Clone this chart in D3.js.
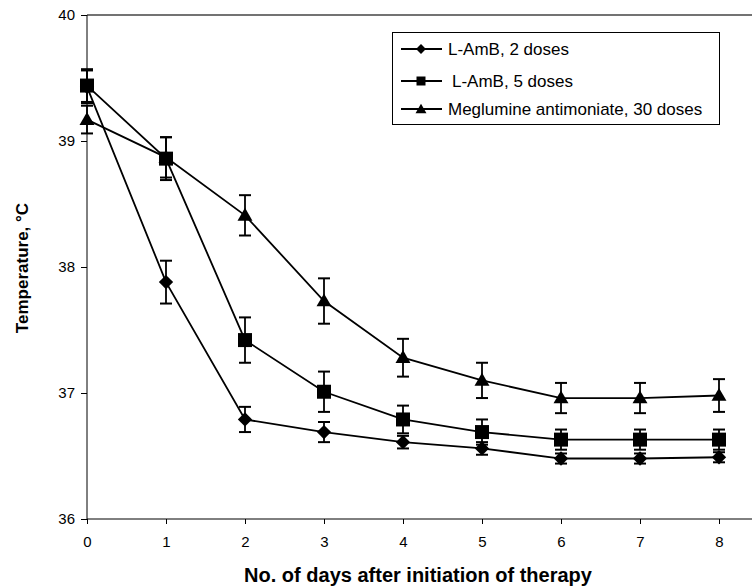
<!DOCTYPE html>
<html>
<head>
<meta charset="utf-8">
<script src="https://cdn.jsdelivr.net/npm/d3@7"></script>
<style>
  body { margin: 0; background: #fff; }
  svg { display: block; font-family: "Liberation Sans", Arial, sans-serif; }
  .axis path, .axis line { stroke: #000; }
  .axis text { font-size: 15px; fill: #000; }
</style>
</head>
<body>
<script>
  // days after start of therapy
  var days = [0, 1, 2, 3, 4, 5, 6, 7, 8];

  var amb2    = [39.43, 37.88, 36.79, 36.69, 36.61, 36.56, 36.48, 36.48, 36.49];
  var amb2Err = [0.13, 0.17, 0.10, 0.08, 0.05, 0.05, 0.04, 0.04, 0.04];

  var amb5    = [39.44, 38.86, 37.42, 37.01, 36.79, 36.69, 36.63, 36.63, 36.63];
  var amb5Err = [0.13, 0.17, 0.18, 0.16, 0.11, 0.10, 0.08, 0.08, 0.08];

  var mega    = [39.17, 38.87, 38.41, 37.73, 37.28, 37.10, 36.96, 36.96, 36.98];
  var megaErr = [0.11, 0.16, 0.16, 0.18, 0.15, 0.14, 0.12, 0.12, 0.13];

  var seriesNames = ["L-AmB, 2 doses", "L-AmB, 5 doses", "Meglumine antimoniate, 30 doses"];
  var yTicks = [36, 37, 38, 39, 40];

  var series = [
    {name: seriesNames[0], values: amb2, err: amb2Err, shape: "diamond"},
    {name: seriesNames[1], values: amb5, err: amb5Err, shape: "square"},
    {name: seriesNames[2], values: mega, err: megaErr, shape: "triangle"}
  ];

  var width = 752, height = 588;

  var x = d3.scaleLinear().domain([0, 8.5]).range([87, 87 + 8.5 * 79]);
  var y = d3.scaleLinear().domain([36, 40]).range([519, 15]);

  var svg = d3.select("body").append("svg")
      .attr("width", width)
      .attr("height", height);

  // top frame line
  svg.append("line")
      .attr("x1", x(0)).attr("x2", width)
      .attr("y1", y(40)).attr("y2", y(40))
      .attr("stroke", "#444").attr("stroke-width", 1.3);

  // axis-x
  svg.append("g")
      .attr("class", "axis")
      .attr("transform", "translate(0," + y(36) + ")")
      .call(d3.axisBottom(x).tickValues(days).tickSize(5).tickPadding(12).tickFormat(d3.format("d")))
      .call(function(g) { g.select(".domain").attr("d", "M" + x(0) + ",0H" + width); });

  // axis-y
  svg.append("g")
      .attr("class", "axis")
      .attr("transform", "translate(" + x(0) + ",0)")
      .call(d3.axisLeft(y).tickValues(yTicks).tickSize(6).tickPadding(6).tickFormat(d3.format("d")))
      .call(function(g) { g.select(".domain").attr("d", "M0," + y(40) + "V" + y(36)); });

  function marker(shape, s) {
    if (shape === "square") return d3.symbol().type(d3.symbolSquare).size(s * s)();
    if (shape === "triangle") return d3.symbol().type(d3.symbolTriangle).size(s * s * 0.43)();
    // diamond: square turned 45 degrees
    var h = s * 0.55;
    return "M0," + (-h) + "L" + h + ",0L0," + h + "L" + (-h) + ",0Z";
  }

  var line = d3.line()
      .x(function(d, i) { return x(days[i]); })
      .y(function(d) { return y(d); });

  var plot = svg.append("g");

  series.forEach(function(s) {
    var g = plot.append("g");

    g.append("path")
      .attr("d", line(s.values))
      .attr("fill", "none")
      .attr("stroke", "#000")
      .attr("stroke-width", 1.8);

    // error bars
    var eb = g.selectAll(".eb").data(s.values).enter().append("g");
    eb.append("line")
      .attr("x1", function(d, i) { return x(days[i]); })
      .attr("x2", function(d, i) { return x(days[i]); })
      .attr("y1", function(d, i) { return y(d + s.err[i]); })
      .attr("y2", function(d, i) { return y(d - s.err[i]); })
      .attr("stroke", "#000").attr("stroke-width", 1.8);
    [1, -1].forEach(function(sign) {
      eb.append("line")
        .attr("x1", function(d, i) { return x(days[i]) - 6; })
        .attr("x2", function(d, i) { return x(days[i]) + 6; })
        .attr("y1", function(d, i) { return y(d + sign * s.err[i]); })
        .attr("y2", function(d, i) { return y(d + sign * s.err[i]); })
        .attr("stroke", "#000").attr("stroke-width", 2);
    });

    g.selectAll(".mk").data(s.values).enter().append("path")
      .attr("d", marker(s.shape, s.shape === "square" ? 14 : (s.shape === "triangle" ? 15 : 13)))
      .attr("transform", function(d, i) {
        var dy = s.shape === "triangle" ? 1 : 0;
        return "translate(" + x(days[i]) + "," + (y(d) + dy) + ")";
      })
      .attr("fill", "#000");
  });

  // legend
  var legend = svg.append("g");
  legend.append("rect")
      .attr("x", 392.5).attr("y", 32.5)
      .attr("width", 327).attr("height", 92)
      .attr("fill", "#fff").attr("stroke", "#000").attr("stroke-width", 1);

  var rowY = [49, 81, 109];
  var rowX = [448, 452, 448];
  series.forEach(function(s, i) {
    var row = legend.append("g").attr("transform", "translate(0," + rowY[i] + ")");
    row.append("line")
      .attr("x1", 401).attr("x2", 442).attr("y1", 0).attr("y2", 0)
      .attr("stroke", "#000").attr("stroke-width", 1.8);
    row.append("path")
      .attr("d", marker(s.shape, s.shape === "triangle" ? 11 : 9))
      .attr("transform", "translate(421," + (s.shape === "triangle" ? 1 : 0) + ")")
      .attr("fill", "#000");
    row.append("text")
      .attr("x", rowX[i]).attr("y", 0).attr("dy", "0.35em")
      .attr("font-size", "17px")
      .text(s.name);
  });

  // axis titles
  svg.append("text")
      .attr("x", 418).attr("y", 582)
      .attr("text-anchor", "middle")
      .attr("font-size", "20px").attr("font-weight", "bold")
      .text("No. of days after initiation of therapy");

  svg.append("text")
      .attr("transform", "translate(28,268) rotate(-90)")
      .attr("text-anchor", "middle")
      .attr("font-size", "17px").attr("font-weight", "bold")
      .text("Temperature, \u00b0C");
</script>
</body>
</html>
